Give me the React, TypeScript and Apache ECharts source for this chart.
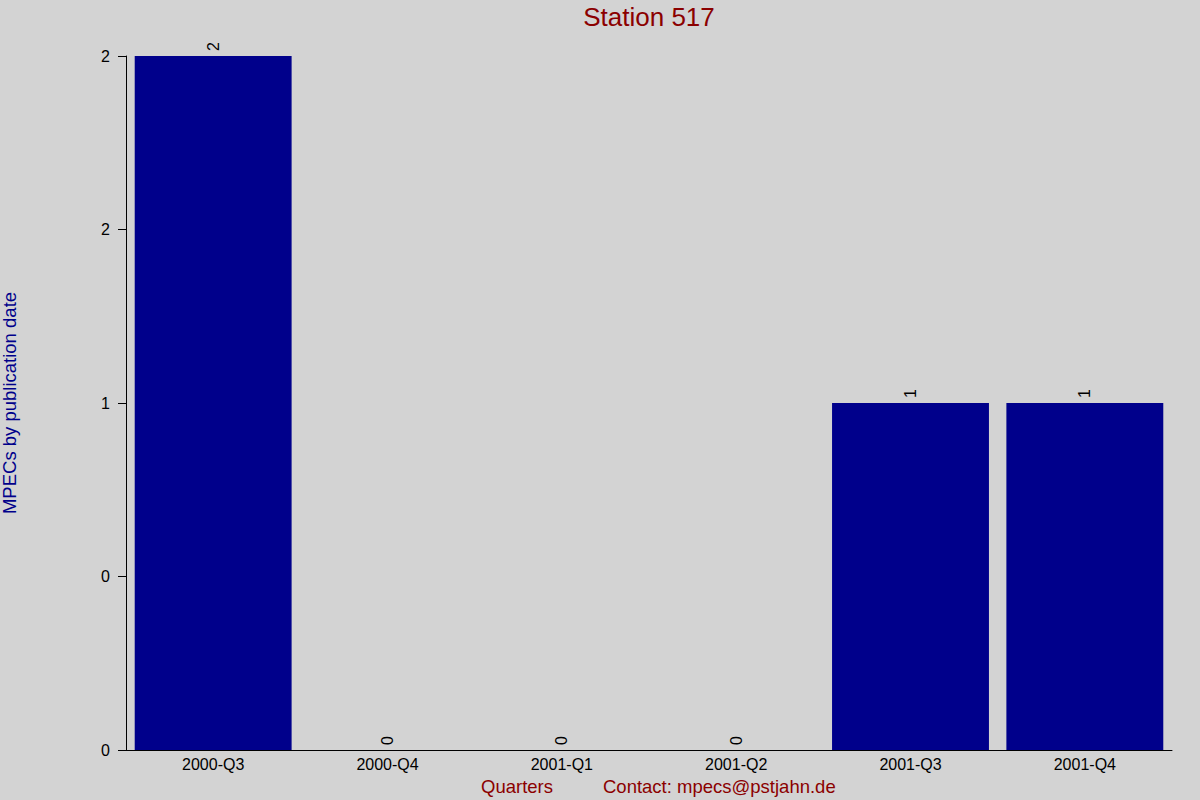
import { useEffect, useRef } from 'react';
import * as echarts from 'echarts';

const quarters = ['2000-Q3', '2000-Q4', '2001-Q1', '2001-Q2', '2001-Q3', '2001-Q4'];
const mpecCounts = [2, 0, 0, 0, 1, 1];
const yTickLabels = ['0', '0', '1', '2', '2'];

const BG = '#d3d3d3';
const BAR = '#00008b';
const RED = '#8b0000';
const BLUE = '#00008b';
const FONT = '"Liberation Sans", Arial, sans-serif';

export default function App() {
  const ref = useRef<HTMLDivElement>(null);

  useEffect(() => {
    document.body.style.margin = '0';
    if (!ref.current) return;
    const chart = echarts.init(ref.current, undefined, { renderer: 'svg' });
    chart.setOption({
      animation: false,
      backgroundColor: BG,
      textStyle: { fontFamily: FONT },
      graphic: [
        {
          type: 'text',
          x: 649,
          y: 17,
          style: {
            text: 'Station 517',
            fill: RED,
            fontSize: 26,
            fontFamily: FONT,
            textAlign: 'center',
            textVerticalAlign: 'middle',
          },
        },
        {
          type: 'text',
          x: 517,
          y: 786,
          style: {
            text: 'Quarters',
            fill: RED,
            fontSize: 18.5,
            fontFamily: FONT,
            textAlign: 'center',
            textVerticalAlign: 'middle',
          },
        },
        {
          type: 'text',
          x: 603,
          y: 786,
          style: {
            text: 'Contact: mpecs@pstjahn.de',
            fill: RED,
            fontSize: 18.5,
            fontFamily: FONT,
            textAlign: 'left',
            textVerticalAlign: 'middle',
          },
        },
      ],
      grid: { left: 126, right: 28, top: 56, bottom: 50, containLabel: false, outerBoundsMode: 'none' },
      xAxis: {
        type: 'category',
        data: quarters,
        axisLine: { lineStyle: { color: '#000', width: 1 } },
        axisTick: { show: false },
        axisLabel: { color: '#000', fontSize: 16, margin: 6, fontFamily: FONT },
        splitLine: { show: false },
      },
      yAxis: {
        type: 'value',
        min: 0,
        max: 2,
        interval: 0.5,
        name: 'MPECs by publication date',
        nameLocation: 'middle',
        nameRotate: 90,
        nameGap: 107,
        nameTextStyle: { color: BLUE, fontSize: 18.5, fontFamily: FONT },
        axisLine: { show: true, lineStyle: { color: '#000', width: 1 } },
        axisTick: { show: true, length: 8, lineStyle: { color: '#000' } },
        axisLabel: {
          color: '#000',
          fontSize: 16,
          margin: 16,
          fontFamily: FONT,
          formatter: (_v: number, i: number) => yTickLabels[i] ?? '',
        },
        splitLine: { show: false },
      },
      series: [
        {
          type: 'bar',
          data: mpecCounts,
          barCategoryGap: '10%',
          itemStyle: { color: BAR },
          label: {
            show: true,
            position: 'top',
            rotate: 90,
            align: 'left',
            verticalAlign: 'middle',
            distance: 5,
            color: '#000',
            fontSize: 16,
            fontFamily: FONT,
          },
        },
      ],
    });
    return () => chart.dispose();
  }, []);

  return <div ref={ref} style={{ width: 1200, height: 800 }} />;
}
